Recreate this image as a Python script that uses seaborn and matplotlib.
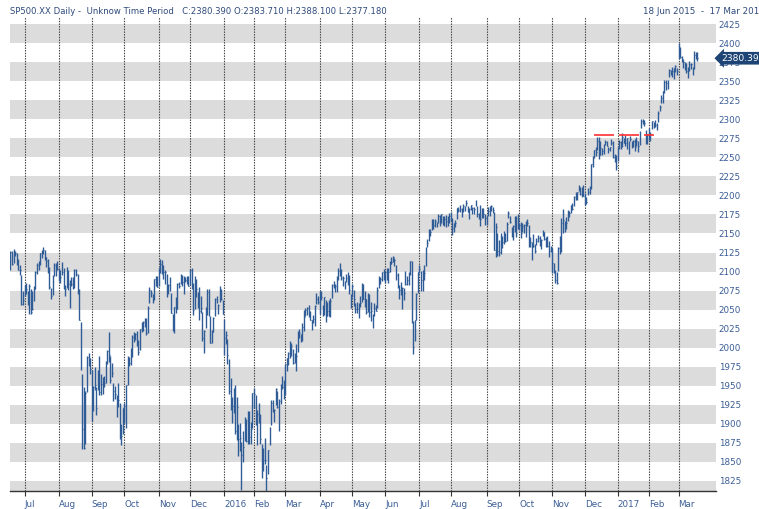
import numpy as np
import pandas as pd
import matplotlib
matplotlib.use("Agg")
import matplotlib.pyplot as plt
import seaborn as sns

# ---------------- data ----------------
holidays = ["2015-07-03", "2015-09-07", "2015-11-26", "2015-12-25",
            "2016-01-01", "2016-01-18", "2016-02-15", "2016-03-25",
            "2016-05-30", "2016-07-04", "2016-09-05", "2016-11-24",
            "2016-12-26", "2017-01-02", "2017-01-16", "2017-02-20"]

closes = [
    2126.06, 2109.99, 2122.85, 2124.20, 2108.58, 2102.31, 2101.49, 2057.64, 2063.11,
    2077.42, 2076.78, 2068.76, 2081.34, 2046.68, 2051.31, 2076.62, 2099.60, 2108.95, 2107.40, 2124.29, 2126.64, 2128.28, 2119.21, 2114.15, 2102.15, 2079.65, 2067.64, 2093.25, 2108.57, 2108.63, 2103.84,
    2098.04, 2093.32, 2099.84, 2083.56, 2077.57, 2104.18, 2084.07, 2086.05, 2083.39, 2091.54, 2102.44, 2096.92, 2079.61, 2035.73, 1970.89, 1893.21, 1867.61, 1940.51, 1987.66, 1988.87, 1972.18,
    1913.85, 1948.86, 1951.13, 1921.22, 1969.41, 1942.04, 1952.29, 1961.05, 1953.03, 1978.09, 1995.31, 1990.20, 1958.03, 1966.97, 1942.74, 1938.76, 1932.24, 1931.34, 1881.77, 1884.09, 1920.03,
    1923.82, 1951.36, 1987.05, 1979.92, 1995.83, 2013.43, 2014.89, 2017.46, 2003.69, 1994.24, 2023.86, 2033.11, 2033.66, 2030.77, 2018.94, 2052.51, 2075.15, 2071.18, 2065.89, 2090.35, 2089.41, 2079.36,
    2104.05, 2109.79, 2102.31, 2099.93, 2099.20, 2078.58, 2081.72, 2075.00, 2045.97, 2023.04, 2053.19, 2050.44, 2083.58, 2081.24, 2089.17, 2086.59, 2089.14, 2088.87, 2090.11, 2080.41,
    2102.63, 2079.51, 2049.62, 2091.69, 2077.07, 2063.59, 2047.62, 2052.23, 2012.37, 2021.94, 2043.41, 2073.07, 2041.89, 2005.55, 2021.15, 2038.97, 2064.29, 2060.99, 2056.50, 2078.36, 2063.36, 2043.94,
    2012.66, 2016.71, 1990.26, 1943.09, 1922.03, 1923.67, 1938.68, 1890.28, 1921.84, 1880.33, 1881.33, 1859.33, 1868.99, 1906.90, 1877.08, 1903.63, 1882.95, 1893.36, 1940.24,
    1939.38, 1903.03, 1912.53, 1915.45, 1880.05, 1853.44, 1852.21, 1851.86, 1829.08, 1864.78, 1895.58, 1926.82, 1917.83, 1917.78, 1945.50, 1921.27, 1929.80, 1951.70, 1948.05, 1932.23,
    1978.35, 1986.45, 1993.40, 1999.99, 2001.76, 1979.26, 1989.26, 1989.57, 2022.19, 2019.64, 2015.93, 2027.22, 2040.59, 2049.58, 2051.60, 2049.80, 2036.71, 2035.94, 2037.05, 2055.01, 2063.95, 2059.74,
    2072.78, 2066.13, 2045.17, 2066.66, 2041.91, 2047.60, 2041.99, 2061.72, 2082.42, 2082.78, 2080.73, 2094.34, 2100.80, 2102.40, 2091.48, 2091.58, 2087.79, 2091.70, 2095.15, 2075.81, 2065.30,
    2081.43, 2063.37, 2051.12, 2050.63, 2057.14, 2058.69, 2084.39, 2064.46, 2064.11, 2046.61, 2066.66, 2047.21, 2047.63, 2040.04, 2052.32, 2048.04, 2076.06, 2090.54, 2090.10, 2099.06, 2096.95,
    2099.33, 2105.26, 2099.13, 2109.41, 2112.13, 2119.12, 2115.48, 2096.07, 2079.06, 2075.32, 2071.50, 2077.99, 2071.22, 2083.25, 2088.90, 2085.45, 2113.32, 2037.41, 2000.54, 2036.09, 2070.77, 2098.86,
    2102.95, 2088.55, 2099.73, 2097.90, 2129.90, 2137.16, 2152.14, 2152.43, 2163.75, 2161.74, 2166.89, 2163.78, 2173.02, 2165.17, 2175.03, 2168.48, 2169.18, 2166.58, 2170.06, 2173.60,
    2170.84, 2157.03, 2163.79, 2164.25, 2182.87, 2180.89, 2181.74, 2175.49, 2185.79, 2184.05, 2190.15, 2178.15, 2182.22, 2187.02, 2183.87, 2182.64, 2186.90, 2175.44, 2172.47, 2169.04, 2180.38, 2176.12, 2170.95,
    2170.86, 2179.98, 2186.48, 2186.16, 2181.30, 2127.81, 2159.04, 2127.02, 2125.77, 2147.26, 2139.16, 2139.12, 2139.76, 2163.12, 2177.18, 2164.69, 2146.10, 2159.93, 2171.37, 2151.13, 2168.27,
    2161.20, 2150.49, 2159.73, 2160.77, 2153.74, 2163.66, 2136.73, 2139.18, 2132.55, 2132.98, 2126.50, 2139.60, 2144.29, 2141.34, 2141.16, 2151.33, 2143.16, 2139.43, 2133.04, 2126.41, 2126.15,
    2111.72, 2097.94, 2088.66, 2085.18, 2131.52, 2139.56, 2163.26, 2167.48, 2164.45, 2164.20, 2180.39, 2176.94, 2187.12, 2181.90, 2198.18, 2202.94, 2204.72, 2213.35, 2201.72, 2204.66, 2198.81,
    2191.08, 2191.95, 2204.71, 2212.23, 2241.35, 2246.19, 2259.53, 2256.96, 2271.72, 2253.28, 2262.03, 2258.07, 2262.53, 2270.76, 2265.18, 2260.96, 2263.79, 2268.88, 2249.92, 2249.26, 2238.83,
    2257.83, 2270.75, 2269.00, 2276.98, 2268.90, 2268.90, 2275.32, 2270.44, 2274.64, 2267.89, 2271.89, 2263.69, 2271.31, 2265.20, 2280.07, 2298.37, 2296.68, 2294.69, 2280.90, 2278.87,
    2279.55, 2280.85, 2297.42, 2292.56, 2293.08, 2294.67, 2307.87, 2316.10, 2328.25, 2337.58, 2349.25, 2347.22, 2351.16, 2365.38, 2362.82, 2363.81, 2367.34, 2369.75, 2363.64,
    2395.96, 2381.92, 2383.12, 2375.31, 2368.39, 2362.98, 2364.87, 2372.60, 2373.47, 2365.45, 2385.26, 2381.38, 2380.39,
]

highs = [
    2126.65, 2126.60, 2130.00, 2127.00, 2125.00, 2116.00, 2108.90, 2095.00, 2074.00,
    2082.80, 2085.00, 2074.00, 2083.00, 2077.00, 2074.00, 2081.00, 2100.70, 2111.00, 2114.00, 2124.40, 2128.00, 2132.80, 2128.50, 2119.00, 2116.90, 2106.00, 2078.00, 2095.60, 2110.60, 2111.00, 2114.00,
    2105.00, 2102.00, 2112.70, 2104.00, 2082.00, 2105.40, 2102.50, 2089.00, 2093.00, 2092.90, 2103.00, 2103.50, 2096.20, 2076.60, 2034.00, 1965.00, 1948.00, 1943.10, 1989.60, 1993.50, 1986.00,
    1970.00, 1948.90, 1975.00, 1947.80, 1970.00, 1988.60, 1965.00, 1961.10, 1963.00, 1983.00, 1997.30, 2020.90, 1989.40, 1979.60, 1953.00, 1949.50, 1937.20, 1952.90, 1927.20, 1899.50, 1920.50,
    1927.20, 1951.40, 1989.20, 1988.00, 1999.30, 2016.50, 2020.10, 2018.70, 2022.30, 2009.60, 2024.20, 2033.50, 2034.50, 2039.10, 2038.30, 2055.20, 2079.70, 2075.10, 2070.40, 2090.40, 2094.30, 2094.30,
    2105.00, 2116.50, 2114.60, 2108.80, 2101.90, 2097.00, 2083.70, 2093.00, 2072.30, 2044.60, 2053.20, 2066.70, 2085.30, 2086.70, 2097.10, 2095.60, 2094.10, 2093.00, 2093.80, 2093.80,
    2103.40, 2104.30, 2085.00, 2093.80, 2090.40, 2073.00, 2080.30, 2067.70, 2047.30, 2022.90, 2053.20, 2076.70, 2076.40, 2041.10, 2022.90, 2040.00, 2064.70, 2067.40, 2057.80, 2081.60, 2077.30, 2062.50,
    2038.20, 2021.90, 2011.70, 1985.30, 1960.40, 1935.70, 1947.40, 1950.30, 1934.50, 1900.00, 1901.40, 1876.00, 1889.90, 1908.90, 1906.30, 1916.98, 1916.99, 1902.60, 1940.20,
    1947.20, 1937.10, 1918.10, 1927.40, 1913.10, 1873.70, 1868.30, 1881.60, 1845.30, 1864.80, 1895.80, 1930.70, 1930.70, 1918.80, 1946.70, 1943.60, 1932.10, 1951.80, 1962.96, 1958.00,
    1978.40, 1986.50, 1993.70, 2009.10, 2006.10, 1998.10, 1992.70, 2005.10, 2022.40, 2024.60, 2017.50, 2032.00, 2049.30, 2052.40, 2053.00, 2056.60, 2048.00, 2036.00, 2042.70, 2055.90, 2072.20, 2067.90,
    2074.00, 2074.00, 2056.00, 2067.00, 2062.90, 2060.60, 2062.90, 2065.00, 2083.20, 2087.80, 2083.90, 2094.70, 2104.90, 2111.10, 2103.90, 2094.30, 2087.80, 2096.90, 2099.90, 2094.98, 2070.90,
    2083.40, 2076.10, 2059.00, 2060.20, 2058.30, 2067.60, 2084.90, 2083.30, 2073.90, 2064.30, 2071.90, 2070.10, 2060.60, 2044.60, 2058.40, 2055.90, 2079.70, 2094.70, 2092.20, 2099.30, 2103.50,
    2100.60, 2105.30, 2104.40, 2113.40, 2119.20, 2120.60, 2117.60, 2109.00, 2098.10, 2081.90, 2085.90, 2079.60, 2078.00, 2100.70, 2093.90, 2099.90, 2113.30, 2113.30, 2035.40, 2036.10, 2071.40, 2098.90,
    2108.70, 2100.70, 2102.10, 2109.10, 2131.70, 2143.20, 2155.40, 2156.45, 2168.99, 2169.10, 2168.60, 2164.60, 2175.60, 2174.60, 2175.10, 2173.50, 2173.50, 2174.00, 2172.90, 2177.10,
    2178.30, 2170.00, 2163.80, 2168.20, 2182.90, 2185.40, 2187.70, 2183.40, 2188.50, 2186.30, 2193.80, 2186.60, 2183.10, 2187.00, 2185.00, 2185.20, 2193.40, 2186.70, 2177.50, 2187.90, 2183.50, 2183.50, 2175.10,
    2173.60, 2184.90, 2186.60, 2187.90, 2184.90, 2178.20, 2163.30, 2150.80, 2141.30, 2151.30, 2146.50, 2153.60, 2150.80, 2165.10, 2179.99, 2172.70, 2158.50, 2161.10, 2172.40, 2172.70, 2175.30,
    2164.40, 2165.50, 2163.95, 2162.90, 2165.90, 2169.60, 2161.60, 2145.40, 2138.20, 2149.20, 2135.60, 2144.40, 2148.40, 2147.20, 2142.60, 2154.80, 2151.50, 2145.70, 2147.10, 2140.70, 2133.30,
    2131.50, 2111.80, 2102.60, 2099.10, 2132.00, 2146.90, 2170.10, 2182.30, 2165.90, 2171.40, 2180.80, 2179.20, 2188.10, 2189.90, 2198.70, 2204.80, 2204.70, 2213.40, 2211.60, 2210.50, 2214.10,
    2202.60, 2197.95, 2209.40, 2212.50, 2241.60, 2251.70, 2259.80, 2264.00, 2277.50, 2276.20, 2272.10, 2263.00, 2267.00, 2272.60, 2271.20, 2263.20, 2263.80, 2273.80, 2271.30, 2254.50, 2253.60,
    2263.90, 2272.80, 2271.50, 2282.10, 2275.50, 2279.30, 2275.50, 2271.80, 2278.70, 2272.10, 2272.40, 2274.30, 2276.96, 2271.80, 2284.60, 2300.99, 2300.40, 2299.00, 2286.00, 2281.30,
    2289.10, 2283.97, 2298.30, 2296.20, 2299.40, 2295.90, 2311.10, 2319.20, 2331.60, 2337.60, 2351.30, 2351.30, 2351.30, 2366.70, 2365.10, 2368.30, 2367.30, 2371.50, 2367.80,
    2400.98, 2394.80, 2383.90, 2378.80, 2375.10, 2373.60, 2369.10, 2376.90, 2374.40, 2368.60, 2390.00, 2388.70, 2388.10,
]

lows = [
    2101.60, 2109.00, 2111.00, 2120.00, 2108.00, 2101.80, 2095.40, 2056.60, 2056.30,
    2068.00, 2071.00, 2056.30, 2044.00, 2044.50, 2049.00, 2061.00, 2077.00, 2097.00, 2102.00, 2108.00, 2118.00, 2123.70, 2115.00, 2106.60, 2098.00, 2077.00, 2063.50, 2069.00, 2094.00, 2094.00, 2102.00,
    2088.00, 2085.00, 2095.00, 2077.00, 2067.90, 2078.00, 2076.00, 2052.00, 2080.60, 2077.00, 2079.00, 2094.00, 2070.50, 2035.70, 1970.90, 1867.00, 1867.00, 1872.80, 1942.00, 1975.20, 1965.00,
    1903.00, 1916.50, 1944.70, 1911.00, 1944.00, 1937.90, 1937.20, 1939.20, 1948.30, 1954.00, 1977.90, 1980.50, 1953.60, 1961.40, 1929.20, 1932.60, 1908.90, 1921.50, 1879.20, 1871.90, 1887.00,
    1900.70, 1893.70, 1951.40, 1976.00, 1976.50, 1987.50, 2007.60, 2010.60, 2001.80, 1990.70, 1996.50, 2020.50, 2022.30, 2026.60, 2017.20, 2019.00, 2058.80, 2066.50, 2058.80, 2063.10, 2081.20, 2079.30,
    2080.80, 2097.50, 2096.98, 2090.40, 2083.70, 2066.70, 2069.90, 2074.40, 2045.70, 2022.00, 2019.40, 2045.90, 2050.20, 2078.80, 2083.20, 2081.40, 2070.30, 2086.30, 2084.10, 2080.40,
    2082.90, 2077.10, 2042.40, 2051.20, 2066.80, 2052.30, 2036.50, 2045.70, 2008.80, 1993.30, 2025.40, 2042.40, 2041.70, 2005.50, 2005.90, 2020.70, 2042.20, 2058.70, 2044.20, 2060.60, 2061.97, 2043.60,
    1989.70, 2004.20, 1979.10, 1938.80, 1918.50, 1901.10, 1914.40, 1886.30, 1878.90, 1857.80, 1864.60, 1812.30, 1848.98, 1877.50, 1875.97, 1872.70, 1872.70, 1873.70, 1894.30,
    1920.30, 1897.90, 1872.20, 1900.50, 1872.70, 1828.50, 1838.00, 1846.70, 1810.10, 1833.40, 1871.40, 1898.70, 1915.10, 1902.20, 1924.80, 1920.00, 1891.00, 1925.40, 1945.80, 1931.80,
    1937.10, 1968.80, 1977.40, 1986.80, 1989.40, 1977.90, 1979.80, 1969.30, 1994.70, 2012.00, 2006.80, 2008.10, 2022.40, 2041.30, 2043.10, 2040.60, 2035.70, 2022.50, 2031.96, 2028.10, 2057.50, 2057.50,
    2043.98, 2062.60, 2042.00, 2043.10, 2033.80, 2041.70, 2041.90, 2039.70, 2064.60, 2078.10, 2073.40, 2073.70, 2088.30, 2093.80, 2088.50, 2081.20, 2077.50, 2085.80, 2082.30, 2070.30, 2052.30,
    2066.80, 2054.60, 2046.00, 2045.80, 2039.10, 2053.10, 2059.90, 2064.50, 2053.10, 2043.90, 2046.50, 2040.80, 2034.50, 2025.90, 2041.70, 2047.70, 2052.70, 2078.90, 2083.60, 2087.30, 2088.70,
    2085.10, 2088.60, 2085.40, 2100.00, 2110.10, 2112.50, 2107.30, 2089.00, 2078.50, 2064.10, 2069.00, 2050.40, 2062.80, 2081.80, 2082.00, 2082.30, 2094.90, 2032.10, 1991.70, 2008.40, 2036.50, 2071.80,
    2097.80, 2074.00, 2074.00, 2089.40, 2107.00, 2131.60, 2139.60, 2146.20, 2155.10, 2155.30, 2159.10, 2159.00, 2163.70, 2159.80, 2163.90, 2161.60, 2160.20, 2159.10, 2159.70, 2163.50,
    2165.80, 2147.60, 2152.50, 2159.10, 2168.60, 2177.90, 2178.60, 2172.00, 2177.70, 2179.40, 2186.20, 2178.10, 2168.50, 2180.50, 2175.10, 2175.96, 2186.80, 2171.10, 2169.70, 2160.40, 2170.70, 2170.20, 2161.10,
    2161.40, 2173.60, 2173.40, 2179.10, 2177.50, 2127.80, 2119.10, 2120.30, 2119.90, 2122.40, 2131.20, 2135.90, 2139.20, 2139.60, 2170.90, 2163.97, 2145.00, 2141.60, 2151.80, 2145.20, 2156.50,
    2154.80, 2144.00, 2152.40, 2150.30, 2144.90, 2160.40, 2132.40, 2132.80, 2114.70, 2132.00, 2124.40, 2135.50, 2138.20, 2133.40, 2130.10, 2146.90, 2141.90, 2131.60, 2132.50, 2119.40, 2125.50,
    2097.90, 2097.60, 2085.20, 2083.80, 2100.60, 2123.60, 2125.30, 2151.20, 2152.50, 2156.10, 2166.40, 2172.20, 2176.60, 2180.40, 2186.40, 2194.50, 2194.10, 2206.30, 2200.40, 2198.20, 2198.80,
    2187.40, 2188.40, 2199.97, 2202.20, 2208.90, 2237.60, 2249.20, 2252.40, 2260.30, 2248.40, 2253.80, 2253.40, 2254.50, 2266.10, 2265.20, 2256.10, 2258.80, 2266.20, 2249.10, 2244.60, 2233.60,
    2245.10, 2261.60, 2260.50, 2264.10, 2268.80, 2265.30, 2260.80, 2254.30, 2271.50, 2262.80, 2263.40, 2258.40, 2265.00, 2257.00, 2266.70, 2288.90, 2294.10, 2291.60, 2268.00, 2267.70,
    2272.40, 2271.70, 2287.90, 2288.50, 2290.20, 2285.40, 2296.60, 2311.10, 2321.40, 2321.90, 2334.80, 2338.90, 2339.60, 2355.10, 2358.30, 2355.10, 2352.90, 2361.90, 2358.96,
    2379.70, 2380.20, 2375.10, 2367.98, 2365.50, 2361.00, 2354.50, 2363.00, 2366.50, 2358.20, 2365.60, 2379.60, 2377.18,
]

last_open = 2383.71
resistance_level = 2280.0
resistance_start = "2016-12-09"
resistance_end = "2017-02-06"

# ---------------- build frame ----------------
dates = pd.bdate_range("2015-06-18", "2017-03-17")
dates = dates[~dates.isin(pd.to_datetime(holidays))]
assert len(dates) == len(closes) == len(highs) == len(lows), (len(dates), len(closes), len(highs), len(lows))
df = pd.DataFrame({"date": dates, "high": highs, "low": lows, "close": closes})
df["i"] = np.arange(len(df))

firsts = df.groupby(df["date"].dt.to_period("M"))["i"].first().iloc[1:]
tick_pos = firsts.values
tick_lab = [str(p.year) if p.month == 1 else p.strftime("%b") for p in firsts.index]

# ---------------- style ----------------
sns.set_theme(style="white")
plt.rcParams["font.family"] = ["DejaVu Sans"]

W, H = 759, 509
fig = plt.figure(figsize=(W / 100, H / 100), dpi=100)
ax = fig.add_axes([10 / W, 18 / H, 706 / W, 474 / H])
ax.set_facecolor("white")

ymin, ymax = 1811.5, 2434.6
for v in range(1800, 2425, 50):
    ax.axhspan(v, v + 25, color="#dcdcdc", lw=0, zorder=0)

ax.vlines(tick_pos, ymin, ymax, colors="#3a3a3a", linestyles=(0, (1.2, 1.2)), lw=0.8, zorder=1)

bar_col = "#2f5c97"
ax.vlines(df["i"], df["low"], df["high"], colors=bar_col, lw=1.0, zorder=3)
ax.hlines(df["close"], df["i"], df["i"] + 0.5, colors=bar_col, lw=0.8, zorder=3)

rs = df.loc[df["date"] == pd.Timestamp(resistance_start), "i"].iloc[0]
re_ = df.loc[df["date"] == pd.Timestamp(resistance_end), "i"].iloc[0]
ax.hlines(resistance_level, rs, re_, colors="#ff3030", lw=1.2, linestyles=(0, (12, 3)), zorder=4)

ax.set_xlim(-0.3, 452.0)
ax.set_ylim(ymin, ymax)

for s in ["top", "left", "right"]:
    ax.spines[s].set_visible(False)
ax.spines["bottom"].set_color("#333333")
ax.spines["bottom"].set_linewidth(1.0)

lab_col = "#3a5d96"
ax.set_xticks(tick_pos)
ax.set_xticklabels(tick_lab, ha="left")
ax.tick_params(axis="x", bottom=True, length=3.6, width=0.8, color="#333333",
               labelcolor=lab_col, labelsize=6.3, pad=3)
ax.yaxis.tick_right()
ax.set_yticks(np.arange(1825, 2426, 25))
ax.tick_params(axis="y", right=False, left=False, length=0, labelcolor=lab_col, labelsize=6.3, pad=2)
ax.grid(False)

# last price marker
ax.text(1.0075, closes[-1], f"{closes[-1]:.2f}", transform=ax.get_yaxis_transform(),
        ha="left", va="center", color="white", fontsize=6.6, clip_on=False, zorder=10,
        bbox=dict(boxstyle="larrow,pad=0.2", fc="#1d4474", ec="none"))

# header
header = (f"SP500.XX Daily -  Unknow Time Period   C:{closes[-1]:.3f} O:{last_open:.3f} "
          f"H:{highs[-1]:.3f} L:{lows[-1]:.3f}")
fig.text(10 / W, 1 - 12 / H, header, fontsize=6.1, color="#2e4a7a", va="center", ha="left")
span = f"{df['date'].iloc[0].day} {df['date'].iloc[0]:%b %Y}  -  {df['date'].iloc[-1].day} {df['date'].iloc[-1]:%b %Y}"
fig.text(643 / W, 1 - 12 / H, span, fontsize=6.3, color="#2e4a7a", va="center", ha="left")

fig.savefig("out.png", dpi=100)
